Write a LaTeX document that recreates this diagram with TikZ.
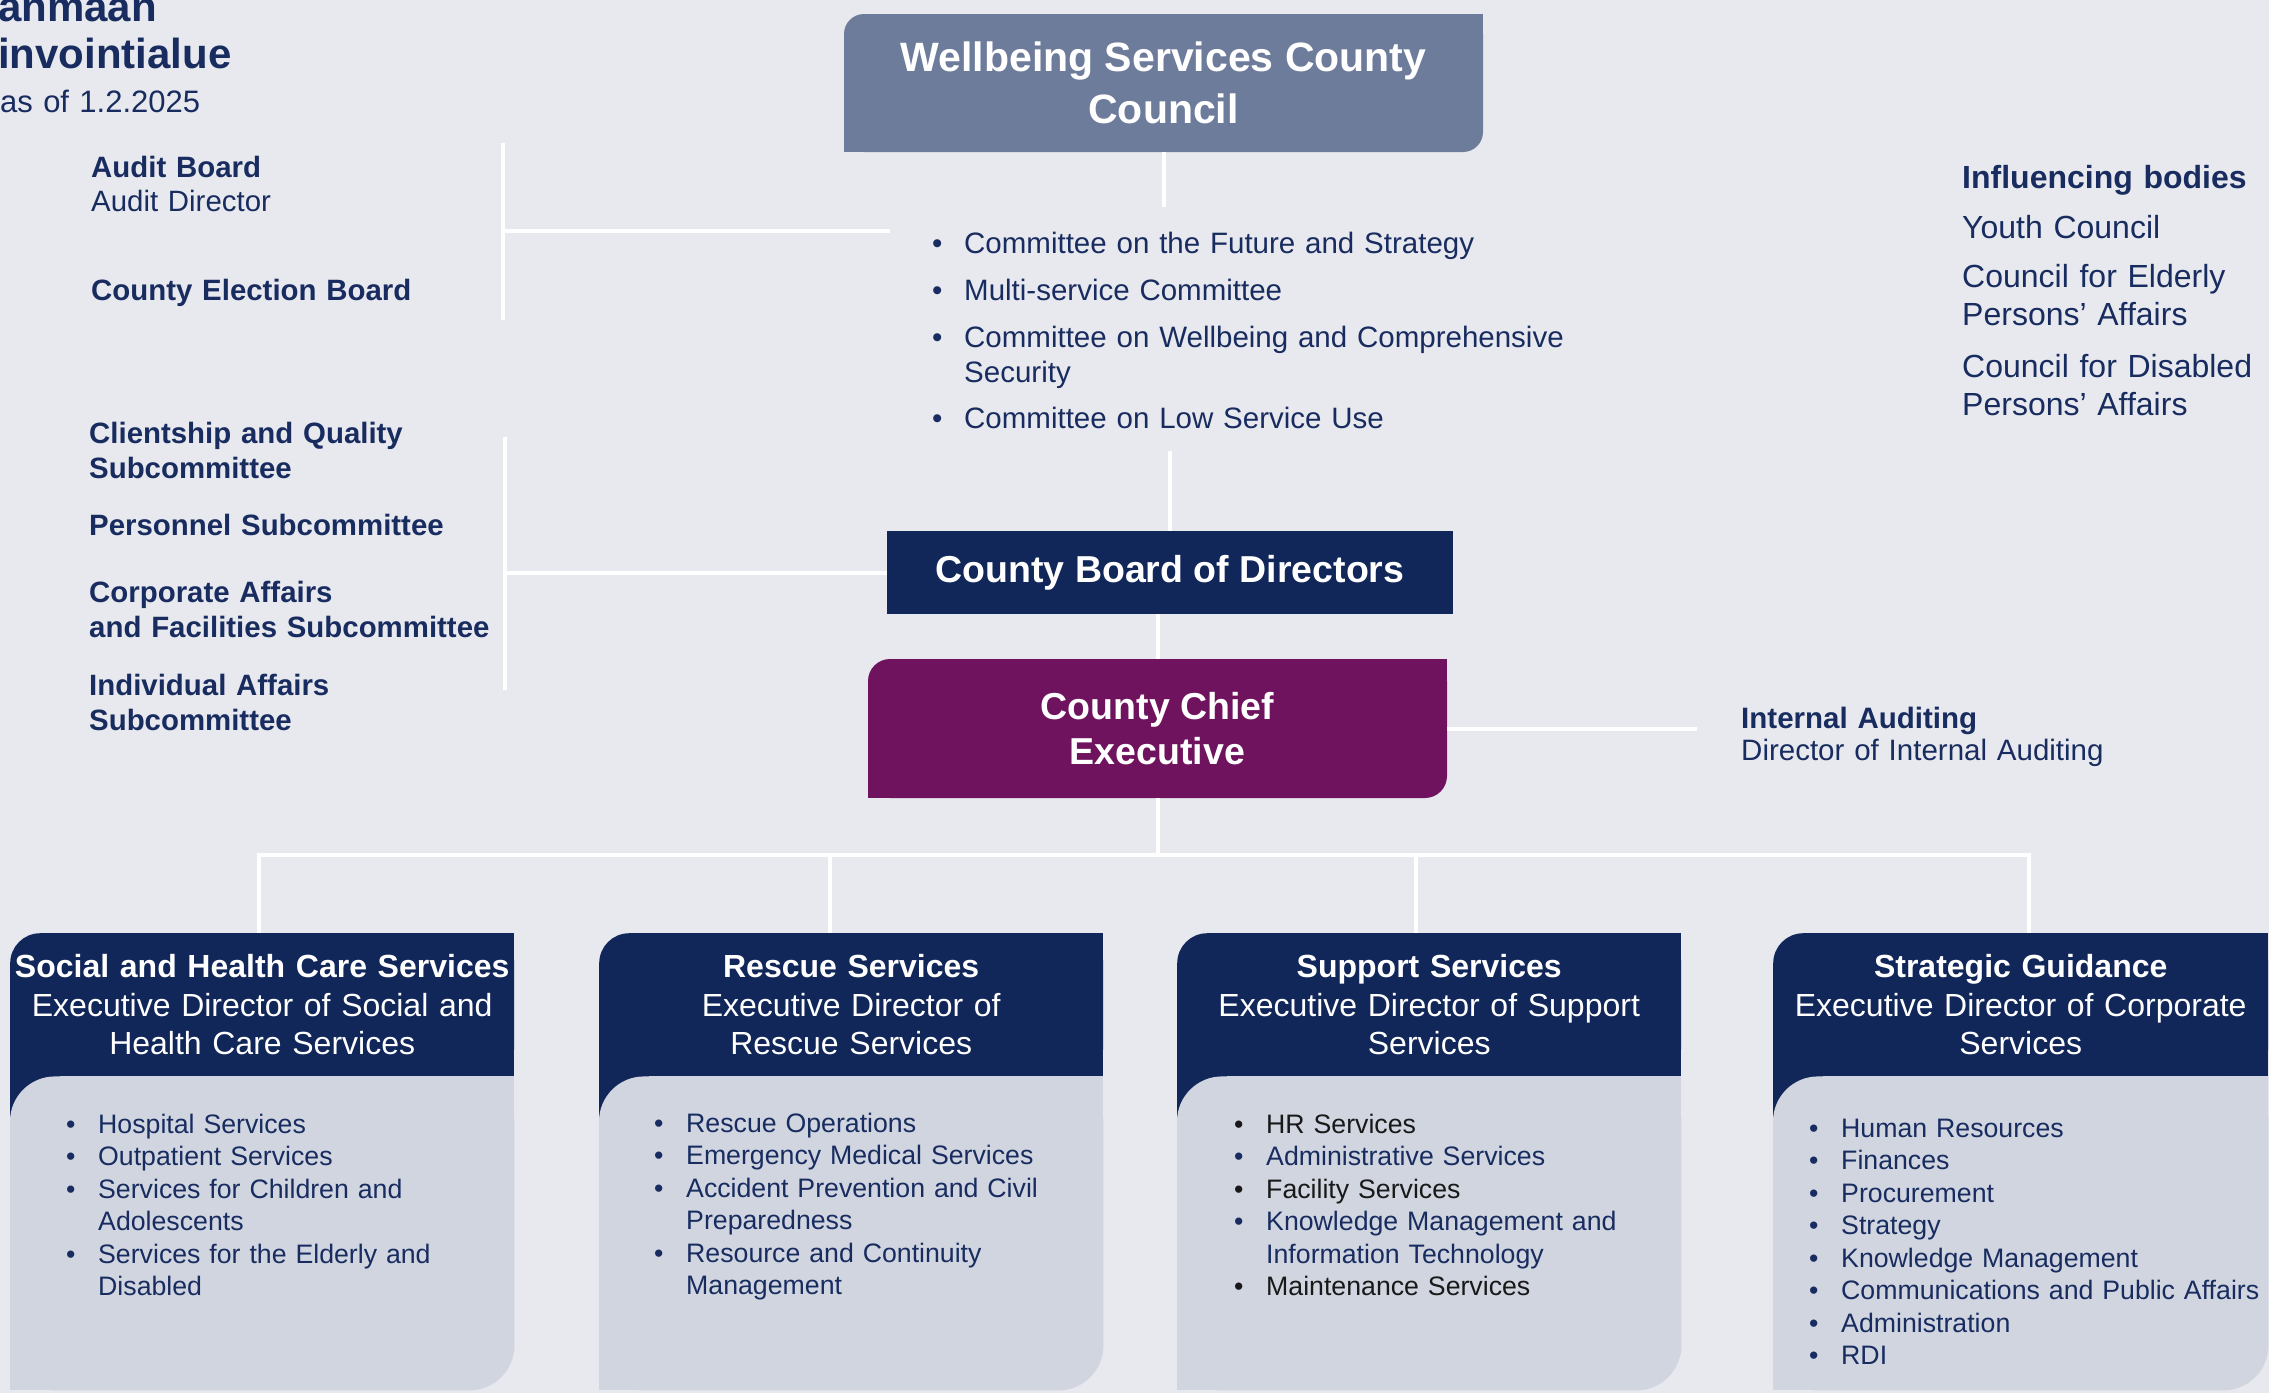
\documentclass[tikz,border=0pt]{standalone}
\usepackage{fontspec}
\setmainfont{Liberation Sans}
\usetikzlibrary{positioning,calc}

\definecolor{bgcol}{RGB}{232,233,238}
\definecolor{wscgray}{RGB}{110,124,155}
\definecolor{boxnavy}{RGB}{17,38,89}
\definecolor{plum}{RGB}{112,19,94}
\definecolor{paleblue}{RGB}{208,213,224}
\definecolor{txtnavy}{RGB}{24,44,96}
\definecolor{txtblack}{RGB}{25,25,25}

\newcommand{\bul}{\makebox[32pt][l]{\textbullet}}
\newcommand{\ind}{\hspace*{32pt}}

\begin{document}
\begin{tikzpicture}[x=1pt, y=-1pt]
    \tikzset{
        link/.style    = {draw = white, line width = 4pt},
        txt/.style     = {anchor = base west, inner sep = 0pt, text width = 440pt, align = left, text = txtnavy},
        lbl/.style     = {txt, font = \fontsize{29.4}{35}\selectfont\bfseries},
        lst/.style     = {txt, text width = 480pt, font = \fontsize{26.7}{32.5}\selectfont},
        hdr/.style     = {fill = boxnavy, rounded corners = 30pt, minimum height = 143pt, inner sep = 0pt, anchor = north west},
        hdrtext/.style = {text = white, inner sep = 0pt, align = center, font = \fontsize{32}{38.5}\selectfont}
    }

    \useasboundingbox (0,0) rectangle (2269,1393);
    \fill[bgcol] (0,0) rectangle (2269,1393);

    % title block, cut off at the left edge
    \node[txt, font = \fontsize{42}{47}\selectfont\bfseries] (TitA) at (-2,21) {anmaan};
    \node[txt, font = \fontsize{42}{47}\selectfont\bfseries] (TitB) at (-2,68) {invointialue};
    \node[txt, font = \fontsize{31}{36}\selectfont] (Date) at (0,112) {as of 1.2.2025};

    % council, board and chief executive
    \node[fill = wscgray, text = white, rounded corners = 20pt, minimum width = 639pt, minimum height = 138pt, align = center, font = \fontsize{41}{52}\selectfont\bfseries] (WSC) at (1163.5,83) {Wellbeing Services County\\Council};
    \fill[wscgray] ([xshift = -22pt]WSC.north east) rectangle ([yshift = -22pt]WSC.north east);
    \fill[wscgray] (WSC.south west) rectangle ([xshift = 22pt, yshift = 22pt]WSC.south west);

    \node[fill = boxnavy, text = white, minimum width = 566pt, minimum height = 83pt, font = \fontsize{37.5}{45}\selectfont\bfseries] (CBD) at (1170,572.5) {County Board of Directors};

    \node[fill = plum, text = white, rounded corners = 22pt, minimum width = 579pt, minimum height = 139pt, align = center, font = \fontsize{37.5}{45}\selectfont\bfseries] (CCE) at (1157.5,728.5) {County Chief\\Executive};
    \fill[plum] ([xshift = -24pt]CCE.north east) rectangle ([yshift = -24pt]CCE.north east);
    \fill[plum] (CCE.south west) rectangle ([xshift = 24pt, yshift = 24pt]CCE.south west);

    % committees under the council
    \node[txt, text width = 700pt, font = \fontsize{29.5}{35}\selectfont] (COM) at (932,253) {\bul Committee on the Future and Strategy\\[12pt]\bul Multi-service Committee\\[12pt]\bul Committee on Wellbeing and Comprehensive\\\ind Security\\[11pt]\bul Committee on Low Service Use};

    % left hand bodies
    \node[txt, font = \fontsize{29.4}{34}\selectfont] (AB) at (91,177) {\textbf{Audit Board}\\Audit Director};
    \node[lbl] (CEB) at (91,300) {County Election Board};
    \node[lbl] (CQS) at (89,443) {Clientship and Quality\\Subcommittee};
    \node[lbl] (PS) at (89,535) {Personnel Subcommittee};
    \node[lbl] (CAFS) at (89,602) {Corporate Affairs\\and Facilities Subcommittee};
    \node[lbl] (IAS) at (89,695) {Individual Affairs\\Subcommittee};

    % right hand bodies
    \node[txt, text width = 300pt, font = \fontsize{32}{38}\selectfont] (IB) at (1962,188) {\textbf{Influencing bodies}\\[12pt]Youth Council\\[11pt]Council for Elderly\\Persons' Affairs\\[14pt]Council for Disabled\\Persons' Affairs};
    \node[txt, font = \fontsize{29.5}{32}\selectfont] (IA) at (1741,728) {\textbf{Internal Auditing}\\Director of Internal Auditing};

    % service areas
    \node[hdr, minimum width = 504pt] (SHC) at (10,933) {};
    \node[hdr, minimum width = 504pt] (RS) at (599,933) {};
    \node[hdr, minimum width = 504pt] (SS) at (1177,933) {};
    \node[hdr, minimum width = 495pt] (SG) at (1773,933) {};

    \foreach \b in {SHC,RS,SS,SG}{
        \fill[boxnavy] ([xshift = -32pt]\b.north east) rectangle ([yshift = -32pt]\b.north east);
        \fill[boxnavy] ([xshift = -32pt, yshift = 32pt]\b.south east) rectangle (\b.south east);
        \fill[boxnavy] ([yshift = 32pt]\b.south west) rectangle ([xshift = 50pt, yshift = -50pt]\b.south west);
        \fill[paleblue, rounded corners = 45pt] (\b.south west) rectangle ([yshift = -314pt]\b.south east);
        \fill[paleblue] ([xshift = -50pt]\b.south east) rectangle ([yshift = -50pt]\b.south east);
        \fill[paleblue] ([yshift = -314pt]\b.south west) rectangle ([xshift = 50pt, yshift = -264pt]\b.south west);
    }

    \node[hdrtext, text width = 500pt] (SHCt) at (SHC) {\textbf{Social and Health Care Services}\\Executive Director of Social and\\Health Care Services};
    \node[hdrtext, text width = 496pt] (RSt) at (RS) {\textbf{Rescue Services}\\Executive Director of\\Rescue Services};
    \node[hdrtext, text width = 496pt] (SSt) at (SS) {\textbf{Support Services}\\Executive Director of Support\\Services};
    \node[hdrtext, text width = 487pt] (SGt) at (SG) {\textbf{Strategic Guidance}\\Executive Director of Corporate\\Services};

    \node[lst] (SHCl) at (66,1133) {\bul Hospital Services\\\bul Outpatient Services\\\bul Services for Children and\\\ind Adolescents\\\bul Services for the Elderly and\\\ind Disabled};
    \node[lst] (RSl) at (654,1132) {\bul Rescue Operations\\\bul Emergency Medical Services\\\bul Accident Prevention and Civil\\\ind Preparedness\\\bul Resource and Continuity\\\ind Management};
    \node[lst] (SSl) at (1234,1133) {\textcolor{txtblack}{\bul HR Services}\\\bul Administrative Services\\\textcolor{txtblack}{\bul Facility Services}\\\bul Knowledge Management and\\\ind Information Technology\\\textcolor{txtblack}{\bul Maintenance Services}};
    \node[lst] (SGl) at (1809,1137) {\bul Human Resources\\\bul Finances\\\bul Procurement\\\bul Strategy\\\bul Knowledge Management\\\bul Communications and Public Affairs\\\bul Administration\\\bul RDI};

    % connectors
    \coordinate (g1t) at (503,143);
    \coordinate (g1b) at (503,320);
    \coordinate (g1m) at (503,231);
    \coordinate (g1e) at (890,231);
    \draw[link] (g1t) -- (g1b);
    \draw[link] (g1m) -- (g1e);

    \coordinate (g2t) at (505,437);
    \coordinate (g2b) at (505,690);
    \draw[link] (g2t) -- (g2b);
    \draw[link] (g2t |- CBD.west) -- (CBD.west);

    \draw[link] (WSC.south) -- (WSC.south |- 0,207);
    \draw[link] (CBD.north) -- (CBD.north |- 0,451);
    \draw[link] (CCE.north |- CBD.south) -- (CCE.north);
    \draw[link] (CCE.east) -- ($(IA.west |- CCE.east) + (-44,0)$);

    \coordinate (b1) at (259,855);
    \coordinate (b2) at (830,855);
    \coordinate (b3) at (1416,855);
    \coordinate (b4) at (2029,855);
    \draw[link] (CCE.south) -- (CCE.south |- b1);
    \draw[link] (b1 |- SHC.north) -- (b1) -- (b4) -- (b4 |- SG.north);
    \draw[link] (b2) -- (b2 |- RS.north);
    \draw[link] (b3) -- (b3 |- SS.north);
\end{tikzpicture}
\end{document}
